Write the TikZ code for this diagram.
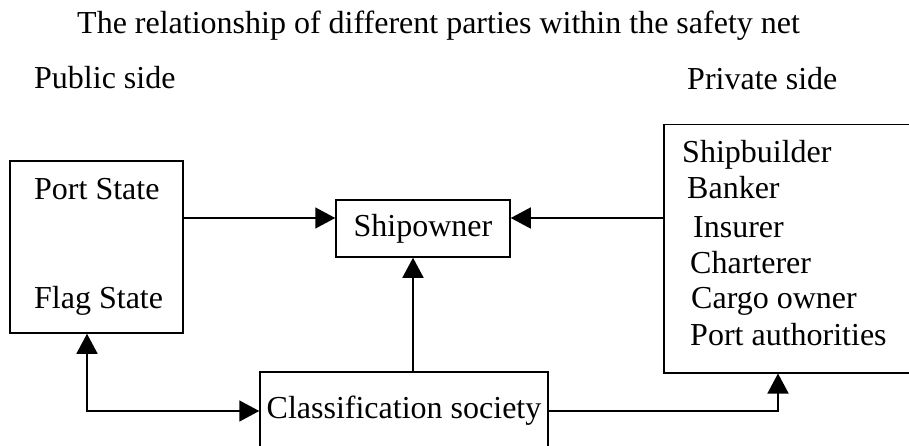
\documentclass[tikz,border=0pt]{standalone}
\usepackage{fontspec}
\setmainfont{Liberation Serif}
\usetikzlibrary{arrows.meta}

\begin{document}
\begin{tikzpicture}[
    x=1pt, y=-1pt,
    font=\fontsize{32}{38}\selectfont,
    edge/.style={-{Triangle[length=20pt, width=21pt]}, line width=1.5pt},
    twoway/.style={{Triangle[length=20pt, width=21pt]}-{Triangle[length=20pt, width=21pt]}, line width=1.5pt},
    party/.style={rectangle, draw, line width=1.5pt, inner sep=0pt},
    label/.style={anchor=base west, inner sep=0pt}
]
\clip (0,0) rectangle (909,446);

% Headings
\node[label] (title) at (77, 34) {The relationship of different parties within the safety net};
\node[label] (publicside) at (34, 89) {Public side};
\node[label] (privateside) at (687, 90) {Private side};

% Public side: states
\node[party, minimum width=173, minimum height=172] (states) at (96.5, 247) {};
\node[label] (portstate) at (34, 200) {Port State};
\node[label] (flagstate) at (34, 308) {Flag State};

% Shipowner and classification society
\node[party, minimum width=174, minimum height=57] (shipowner) at (423, 228.5) {Shipowner};
\node[party, minimum width=288, minimum height=78] (classsoc) at (404, 411) {Classification society};

% Private side: parties
\node[party, minimum width=300, minimum height=248, anchor=north west] (private) at (663, 124) {};
\node[label] (builder) at (682, 163) {Shipbuilder};
\node[label] (banker) at (687, 199) {Banker};
\node[label] (insurer) at (693, 237) {Insurer};
\node[label] (charterer) at (690, 273) {Charterer};
\node[label] (cargo) at (691, 308) {Cargo owner};
\node[label] (portauth) at (690, 345) {Port authorities};

% Connections to the shipowner
\coordinate (ownerleft) at ([yshift=10.5pt]shipowner.west);
\coordinate (ownerright) at ([yshift=10.5pt]shipowner.east);
\coordinate (classtop) at ([xshift=9pt]classsoc.north);
\coordinate (privatein) at ([xshift=115pt]private.south west);
\draw[edge] (states.east |- ownerleft) -- (ownerleft);
\draw[edge] (private.west |- ownerright) -- (ownerright);
\draw[edge] (classtop) -- (shipowner.south -| classtop);

% Connections of the classification society
\draw[twoway] ([xshift=-9.5pt]states.south) |- (classsoc.west);
\draw[edge] (classsoc.east) -| (privatein);

\end{tikzpicture}
\end{document}
